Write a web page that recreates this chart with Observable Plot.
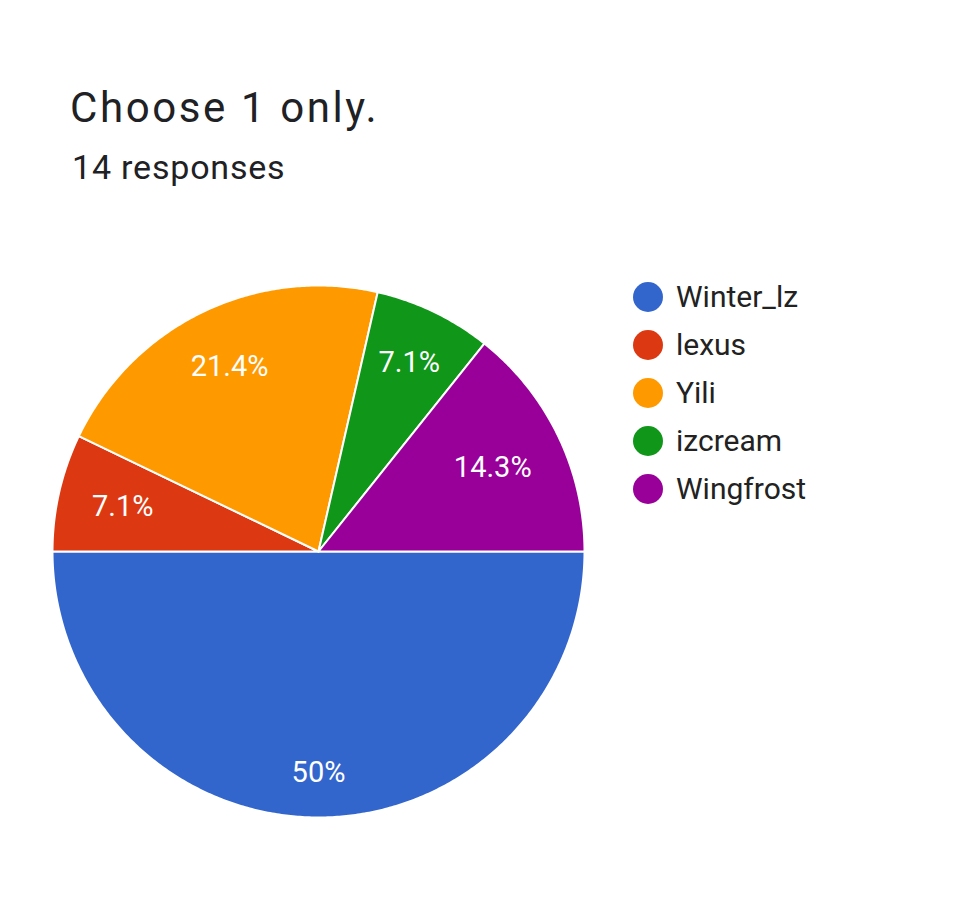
<!DOCTYPE html>
<html>
<head>
<meta charset="utf-8">
<script src="https://cdn.jsdelivr.net/npm/d3@7"></script>
<script src="https://cdn.jsdelivr.net/npm/@observablehq/plot@0.6"></script>
<style>
  html, body { margin: 0; padding: 0; background: #fff; }
  #wrap { position: relative; width: 966px; height: 924px; overflow: hidden; font-family: Roboto, "Noto Sans", sans-serif; color: #202124; }
  #title { position: absolute; left: 70px; top: 87px; font-size: 42px; line-height: 42px; letter-spacing: 2.6px; white-space: nowrap; }
  #subtitle { position: absolute; left: 72px; top: 150px; font-size: 34px; line-height: 34px; letter-spacing: 0.8px; white-space: nowrap; }
  #chart { position: absolute; left: 0; top: 220px; }
  .row { position: absolute; left: 633px; height: 48px; line-height: 48px; font-size: 30px; white-space: nowrap; color: #222; }
  .sw { position: absolute; left: 0; top: 9px; width: 30px; height: 30px; border-radius: 50%; }
  .lb { position: absolute; left: 43px; top: 0; }
</style>
</head>
<body>
<div id="wrap">
  <div id="title"></div>
  <div id="subtitle"></div>
  <div id="chart"></div>
  <div id="legend"></div>
</div>
<script>
const titleText = "Choose 1 only.";
const subtitleText = "14 responses";
const names = ["Winter_lz", "lexus", "Yili", "izcream", "Wingfrost"];
const counts = [7, 1, 3, 1, 2];
const colors = ["#3366cc", "#dc3912", "#ff9900", "#109618", "#990099"];
const startAngleDeg = 90; // slices start at 3 o'clock, clockwise

document.getElementById("title").textContent = titleText;
document.getElementById("subtitle").textContent = subtitleText;

// legend
const legend = document.getElementById("legend");
names.forEach((n, i) => {
  const row = document.createElement("div");
  row.className = "row";
  row.style.top = (273 + 48 * i) + "px";
  const sw = document.createElement("div");
  sw.className = "sw";
  sw.style.background = colors[i];
  const lb = document.createElement("div");
  lb.className = "lb";
  lb.textContent = n;
  row.appendChild(sw); row.appendChild(lb);
  legend.appendChild(row);
});

// geometry of the pie (layout only)
const W = 966, H = 704;
const mL = 52, mR = 382, mT = 65, mB = 107;
const pxPerUnit = (W - mL - mR) / 2; // 266
const labelFont = 29;

const total = d3.sum(counts);
const rad = d => d * Math.PI / 180;

const polyPts = [];
const labelPts = [];
const canvas = document.createElement("canvas");
const ctx = canvas.getContext("2d");
ctx.font = `${labelFont}px Roboto`;

let acc = 0;
names.forEach((name, i) => {
  const a0 = startAngleDeg + acc / total * 360;
  acc += counts[i];
  const a1 = startAngleDeg + acc / total * 360;
  const steps = Math.max(2, Math.ceil((a1 - a0) / 0.5));
  polyPts.push({name, x: 0, y: 0});
  for (let k = 0; k <= steps; k++) {
    const a = rad(a0 + (a1 - a0) * k / steps);
    polyPts.push({name, x: Math.sin(a), y: Math.cos(a)});
  }
  polyPts.push({name, x: 0, y: 0});

  // label: outer corner of its box at ~0.876 r along mid-angle
  let pct = (counts[i] / total * 100).toFixed(1).replace(/\.0$/, "") + "%";
  const am = rad((a0 + a1) / 2);
  const ux = Math.sin(am), uy = Math.cos(am);
  const hw = ctx.measureText(pct).width / 2 / pxPerUnit;
  const hh = 0.711 * labelFont / 2 / pxPerUnit;
  const R = 0.876;
  const b = Math.abs(ux) * hw + Math.abs(uy) * hh;
  const c = hw * hw + hh * hh - R * R;
  const t = -b + Math.sqrt(b * b - c);
  labelPts.push({name, text: pct, x: t * ux, y: t * uy});
});

const chart = Plot.plot({
  width: W,
  height: H,
  marginLeft: mL, marginRight: mR, marginTop: mT, marginBottom: mB,
  x: {domain: [-1, 1], axis: null},
  y: {domain: [-1, 1], axis: null},
  color: {domain: names, range: colors},
  style: {background: "transparent", fontFamily: "Roboto, sans-serif"},
  marks: [
    Plot.line(polyPts, {x: "x", y: "y", z: "name", fill: "name", stroke: "white", strokeWidth: 2, strokeLinejoin: "round"}),
    Plot.text(labelPts, {x: "x", y: "y", text: "text", fill: "white", fontSize: labelFont, textAnchor: "middle", lineAnchor: "middle"})
  ]
});
document.getElementById("chart").appendChild(chart);
</script>
</body>
</html>
